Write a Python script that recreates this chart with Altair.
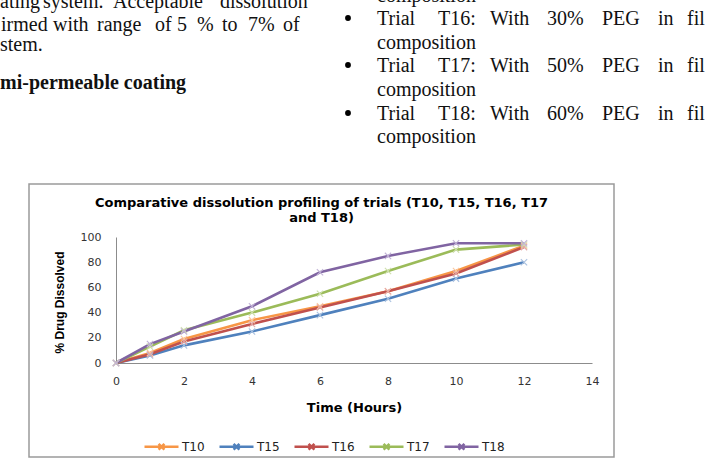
import altair as alt
import pandas as pd

# ---------------- chart data ----------------
hours = [0, 1, 2, 4, 6, 8, 10, 12]
series_names = ["T10", "T15", "T16", "T17", "T18"]
t10 = [0, 8, 19, 34, 45, 57, 73, 93]
t15 = [0, 6, 14, 25, 38, 51, 67, 80]
t16 = [0, 7, 17, 31, 44, 57, 71, 92]
t17 = [0, 13, 26, 40, 55, 73, 90, 94]
t18 = [0, 15, 25, 45, 72, 85, 95, 95]
x_ticks = [0, 2, 4, 6, 8, 10, 12, 14]
y_ticks = [0, 20, 40, 60, 80, 100]
title_lines = ["Comparative dissolution profiling of trials (T10, T15, T16, T17", "and T18)"]
x_title = "Time (Hours)"
y_title = "% Drug Dissolved"

# ---------------- surrounding page text ----------------
left_words = [
    ["ating", "system.", "Acceptable", "dissolution"],
    ["irmed", "with", "range", "of", "5", "%", "to", "7%", "of"],
    ["stem."],
]
left_heading = "mi-permeable coating"
right_words = [
    ["composition"],
    ["Trial", "T16:", "With", "30%", "PEG", "in", "fil"],
    ["composition"],
    ["Trial", "T17:", "With", "50%", "PEG", "in", "fil"],
    ["composition"],
    ["Trial", "T18:", "With", "60%", "PEG", "in", "fil"],
    ["composition"],
]

# ---------------- styles / layout ----------------
series_colors = ["#F79646", "#4F81BD", "#C0504D", "#9BBB59", "#8064A2"]
marker_colors = ["#FAC8A0", "#A9C1E0", "#E3A9A7", "#CFE0AE", "#C2B3D6"]
PL, PT, W, H = 116, 237, 476, 126  # plot area origin and size in page pixels
left_word_x = [[0, 43, 113, 220], [1, 53, 97, 155, 177, 197, 222, 248, 283], [0]]
left_line_y = [8, 31, 51]
heading_pos = (0, 89)
right_word_x = [377, 438, 490, 547, 602, 658, 687]
right_line_y = [1.5, 25, 48.5, 72, 96, 119.5, 143]
bullet_pos = [(348, 18), (348, 65), (348, 113)]
frame = (29, 184, 614, 457)

rows = []
for name, vals in zip(series_names, [t10, t15, t16, t17, t18]):
    for h, v in zip(hours, vals):
        rows.append({"hour": h, "pct": v, "series": name})
df = pd.DataFrame(rows)

xs = alt.Scale(domain=[0, 14], nice=False, zero=False)
ys = alt.Scale(domain=[0, 100], nice=False)

x_axis = alt.Axis(
    values=x_ticks, title=x_title, grid=False, ticks=False,
    labelFont="DejaVu Sans", labelFontSize=11, labelColor="#333", labelPadding=12,
    labelFlush=False, domainColor="#8c8c8c", domainWidth=1,
    titleFont="DejaVu Sans", titleFontSize=13, titleFontWeight="bold",
    titleColor="#000", titlePadding=15)
y_axis = alt.Axis(
    values=y_ticks, title=y_title, grid=False, ticks=False,
    labelFont="DejaVu Sans", labelFontSize=11, labelColor="#333", labelPadding=15,
    domainColor="#8c8c8c", domainWidth=1,
    titleFont="Liberation Sans", titleFontSize=12, titleFontWeight="bold",
    titleColor="#000", titleX=-57, titleY=65, titleAngle=270,
    titleBaseline="middle", titleAlign="center")

lines = alt.Chart(df).mark_line(strokeWidth=2.6).encode(
    x=alt.X("hour:Q", scale=xs, axis=x_axis),
    y=alt.Y("pct:Q", scale=ys, axis=y_axis),
    color=alt.Color("series:N", scale=alt.Scale(domain=series_names, range=series_colors),
                    legend=alt.Legend(
                        orient="none", direction="horizontal", title=None,
                        legendX=27, legendY=191, padding=0,
                        symbolType="M-1,0L1,0M-0.17,-0.17L0.17,0.17M-0.17,0.17L0.17,-0.17",
                        symbolSize=1156, symbolStrokeWidth=2.5,
                        labelFont="DejaVu Sans", labelFontSize=12, labelColor="#222",
                        labelOffset=2, columnPadding=9)),
    order=alt.Order("hour:Q"),
)

points = alt.Chart(df).mark_point(
    shape="M-1,-1L1,1M-1,1L1,-1", filled=False, size=40, strokeWidth=1.1, opacity=1
).encode(
    x=alt.X("hour:Q", scale=xs, axis=x_axis),
    y=alt.Y("pct:Q", scale=ys, axis=y_axis),
    color=alt.Color("series:N", scale=alt.Scale(domain=series_names, range=marker_colors),
                    legend=None),
)

plot = alt.layer(lines, points).resolve_scale(color="independent")

# page text tables
txt = []
for words, xpos, y in zip(left_words, left_word_x, left_line_y):
    for w, x in zip(words, xpos):
        txt.append({"x": x - PL, "y": y - PT, "t": w})
for words, y in zip(right_words, right_line_y):
    for w, x in zip(words, right_word_x):
        txt.append({"x": x - PL, "y": y - PT, "t": w})
tdf = pd.DataFrame(txt)
hdf = pd.DataFrame([{"x": heading_pos[0] - PL, "y": heading_pos[1] - PT, "t": left_heading}])

def page_text(data, weight):
    return alt.Chart(data).mark_text(
        align="left", baseline="alphabetic", font="Liberation Serif", fontSize=20,
        fontWeight=weight, color="#111"
    ).encode(
        x=alt.X("x:Q", scale=None, axis=None),
        y=alt.Y("y:Q", scale=None, axis=None),
        text="t:N",
    )

body_text = page_text(tdf, "normal")
heading_text = page_text(hdf, "bold")

bdf = pd.DataFrame([{"x": x - PL, "y": y - PT} for x, y in bullet_pos])
bullets = alt.Chart(bdf).mark_point(shape="circle", filled=True, size=34, color="#000", opacity=1).encode(
    x=alt.X("x:Q", scale=None, axis=None),
    y=alt.Y("y:Q", scale=None, axis=None),
)

ttl = pd.DataFrame({"t": title_lines, "x": [321.5 - PL, 321.5 - PL], "y": [207 - PT, 222 - PT]})
chart_title = alt.Chart(ttl).mark_text(
    align="center", baseline="alphabetic", font="DejaVu Sans", fontSize=13,
    fontWeight="bold", color="#000"
).encode(
    x=alt.X("x:Q", scale=None, axis=None),
    y=alt.Y("y:Q", scale=None, axis=None),
    text="t:N",
)

frame_df = pd.DataFrame({"k": [0]})
frame_rect = alt.Chart(frame_df).mark_rect(
    fillOpacity=0, stroke="#9a9a9a", strokeWidth=1.5
).encode(
    x=alt.value(frame[0] - PL), x2=alt.value(frame[2] - PL),
    y=alt.value(frame[1] - PT), y2=alt.value(frame[3] - PT),
)

chart = alt.layer(frame_rect, plot, body_text, heading_text, bullets, chart_title).resolve_scale(
    x="independent", y="independent"
).properties(
    width=W, height=H,
    padding={"left": PL, "top": PT, "right": 705 - PL - W, "bottom": 464 - PT - H},
    autosize=alt.AutoSizeParams(type="none"),
    background="white",
).configure_view(stroke=None)

chart.save("out.html", embed_options={"renderer": "svg", "actions": False})
